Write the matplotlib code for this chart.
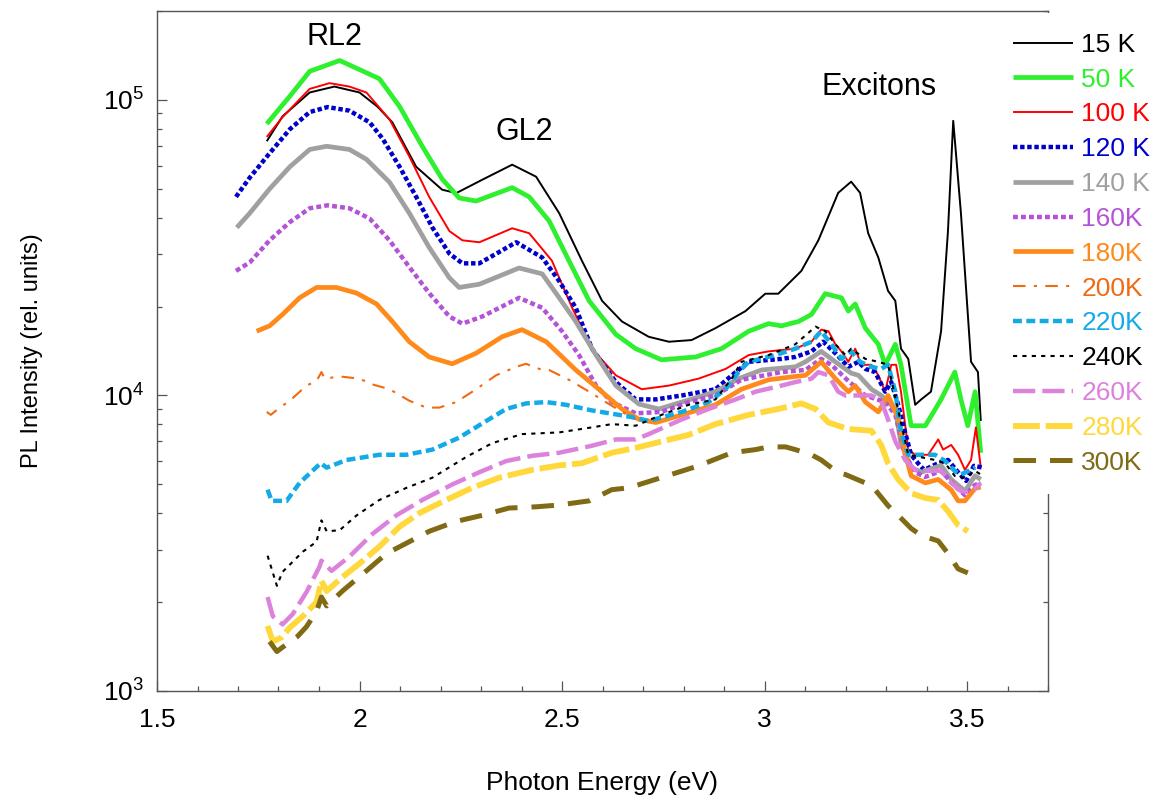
import matplotlib
matplotlib.use("Agg")
import matplotlib.pyplot as plt
from matplotlib.ticker import MultipleLocator, LogLocator, NullFormatter

plt.rcParams['font.family'] = ['Liberation Sans', 'DejaVu Sans']
plt.rcParams['mathtext.fontset'] = 'custom'
plt.rcParams['mathtext.rm'] = 'Liberation Sans'
plt.rcParams['mathtext.it'] = 'Liberation Sans:italic'
plt.rcParams['mathtext.bf'] = 'Liberation Sans:bold'

# ---------------- data (photon energy in eV, PL intensity in rel. units) ----------------
labels = ["15 K", "50 K", "100 K", "120 K", "140 K", "160K", "180K",
          "200K", "220K", "240K", "260K", "280K", "300K"]

e_15 = [1.771, 1.810, 1.877, 1.938, 2.000, 2.044, 2.081, 2.140, 2.204, 2.239, 2.303, 2.377, 2.436,
        2.493, 2.549, 2.599, 2.648, 2.714, 2.764, 2.820, 2.879, 2.953, 3.002, 3.034, 3.091, 3.133,
        3.182, 3.214, 3.236, 3.256, 3.281, 3.305, 3.323, 3.337, 3.355, 3.372, 3.387, 3.411, 3.436,
        3.453, 3.466, 3.485, 3.510, 3.527, 3.534]
i_15 = [7.25e4, 8.8e4, 1.06e5, 1.11e5, 1.06e5, 9.5e4, 8.4e4, 5.94e4, 4.97e4, 4.84e4, 5.37e4, 6.04e4,
        5.5e4, 4.14e4, 2.86e4, 2.09e4, 1.78e4, 1.58e4, 1.52e4, 1.54e4, 1.69e4, 1.93e4, 2.21e4, 2.21e4,
        2.64e4, 3.35e4, 4.85e4, 5.29e4, 4.85e4, 3.54e4, 2.93e4, 2.26e4, 2.09e4, 1.44e4, 1.33e4, 9.3e3,
        9.7e3, 1.03e4, 1.65e4, 3.6e4, 8.5e4, 4.14e4, 1.3e4, 1.2e4, 8.2e3]

e_50 = [1.771, 1.828, 1.877, 1.951, 2.049, 2.099, 2.155, 2.204, 2.246, 2.288, 2.377, 2.419, 2.468,
        2.517, 2.567, 2.633, 2.682, 2.746, 2.830, 2.894, 2.961, 3.010, 3.042, 3.084, 3.116, 3.150,
        3.190, 3.207, 3.224, 3.249, 3.281, 3.298, 3.323, 3.337, 3.362, 3.397, 3.421, 3.436, 3.470,
        3.485, 3.502, 3.520, 3.534]
i_50 = [8.3e4, 1.03e5, 1.25e5, 1.36e5, 1.18e5, 9.5e4, 6.97e4, 5.4e4, 4.66e4, 4.55e4, 5.05e4, 4.7e4,
        3.9e4, 2.86e4, 2.09e4, 1.61e4, 1.44e4, 1.32e4, 1.35e4, 1.44e4, 1.65e4, 1.75e4, 1.72e4, 1.78e4,
        1.88e4, 2.21e4, 2.14e4, 1.93e4, 2.04e4, 1.69e4, 1.49e4, 1.27e4, 1.49e4, 1.27e4, 7.9e3, 7.9e3,
        8.96e3, 9.7e3, 1.2e4, 9.7e3, 7.9e3, 1.03e4, 6.4e3]

e_100 = [1.771, 1.810, 1.877, 1.926, 1.975, 2.017, 2.074, 2.123, 2.172, 2.222, 2.254, 2.296, 2.377,
         2.419, 2.475, 2.525, 2.574, 2.633, 2.697, 2.764, 2.837, 2.904, 2.961, 3.010, 3.076, 3.116,
         3.140, 3.158, 3.175, 3.190, 3.207, 3.224, 3.239, 3.264, 3.281, 3.298, 3.313, 3.325, 3.337,
         3.355, 3.372, 3.404, 3.429, 3.441, 3.461, 3.478, 3.495, 3.510, 3.522, 3.534]
i_100 = [7.5e4, 8.75e4, 1.09e5, 1.14e5, 1.11e5, 1.06e5, 8.6e4, 6.44e4, 4.7e4, 3.6e4, 3.35e4, 3.3e4,
         3.68e4, 3.54e4, 2.86e4, 1.98e4, 1.44e4, 1.17e4, 1.05e4, 1.08e4, 1.14e4, 1.23e4, 1.37e4,
         1.41e4, 1.44e4, 1.52e4, 1.67e4, 1.65e4, 1.49e4, 1.41e4, 1.30e4, 1.44e4, 1.27e4, 1.27e4,
         1.17e4, 1.03e4, 1.27e4, 1.27e4, 1.03e4, 6.56e3, 6.3e3, 6.3e3, 7.1e3, 6.56e3, 6.8e3, 6.3e3,
         5.6e3, 6.05e3, 7.8e3, 5.7e3]

e_120 = [1.695, 1.729, 1.778, 1.828, 1.877, 1.921, 1.975, 2.025, 2.057, 2.099, 2.140, 2.180, 2.222,
         2.254, 2.296, 2.387, 2.451, 2.493, 2.534, 2.574, 2.633, 2.682, 2.732, 2.796, 2.879, 2.929,
         2.961, 3.042, 3.076, 3.116, 3.145, 3.175, 3.207, 3.232, 3.249, 3.273, 3.298, 3.313, 3.330,
         3.345, 3.362, 3.379, 3.394, 3.429, 3.453, 3.478, 3.498, 3.517, 3.539]
i_120 = [4.7e4, 5.46e4, 6.6e4, 7.96e4, 9.1e4, 9.46e4, 9.2e4, 8.4e4, 7.4e4, 5.94e4, 4.7e4, 3.7e4,
         3.02e4, 2.8e4, 2.8e4, 3.3e4, 2.93e4, 2.44e4, 1.98e4, 1.44e4, 1.11e4, 9.7e3, 9.7e3, 1.0e4,
         1.05e4, 1.2e4, 1.3e4, 1.33e4, 1.35e4, 1.41e4, 1.52e4, 1.39e4, 1.25e4, 1.30e4, 1.23e4, 1.20e4,
         1.03e4, 1.11e4, 9.3e3, 7.7e3, 6.3e3, 5.9e3, 5.6e3, 5.9e3, 6.05e3, 5.5e3, 5.14e3, 5.78e3, 5.7e3]

e_140 = [1.697, 1.729, 1.778, 1.828, 1.877, 1.919, 1.975, 2.017, 2.074, 2.123, 2.172, 2.222, 2.246,
         2.296, 2.394, 2.451, 2.485, 2.534, 2.584, 2.633, 2.690, 2.739, 2.796, 2.879, 2.936, 2.993,
         3.076, 3.101, 3.140, 3.175, 3.214, 3.232, 3.264, 3.288, 3.323, 3.337, 3.362, 3.387, 3.436,
         3.461, 3.495, 3.520, 3.534]
i_140 = [3.7e4, 4.14e4, 5.0e4, 5.94e4, 6.8e4, 6.97e4, 6.8e4, 6.3e4, 5.27e4, 4.14e4, 3.17e4, 2.5e4,
         2.32e4, 2.38e4, 2.7e4, 2.58e4, 2.22e4, 1.78e4, 1.37e4, 1.08e4, 9.35e3, 9.0e3, 9.5e3, 1.03e4,
         1.14e4, 1.22e4, 1.25e4, 1.30e4, 1.41e4, 1.30e4, 1.19e4, 1.17e4, 1.05e4, 1.0e4, 9.0e3, 6.9e3,
         5.7e3, 5.5e3, 5.8e3, 5.2e3, 4.75e3, 5.35e3, 5.2e3]

e_160 = [1.695, 1.729, 1.778, 1.828, 1.877, 1.921, 1.975, 2.025, 2.074, 2.123, 2.172, 2.222, 2.254,
         2.303, 2.394, 2.451, 2.500, 2.542, 2.584, 2.623, 2.682, 2.746, 2.813, 2.879, 2.943, 3.042,
         3.101, 3.140, 3.165, 3.207, 3.249, 3.298, 3.323, 3.347, 3.372, 3.397, 3.436, 3.470, 3.495,
         3.520, 3.534]
i_160 = [2.64e4, 2.82e4, 3.35e4, 3.86e4, 4.3e4, 4.4e4, 4.3e4, 3.97e4, 3.35e4, 2.72e4, 2.22e4, 1.85e4,
         1.75e4, 1.85e4, 2.14e4, 1.98e4, 1.65e4, 1.37e4, 1.08e4, 9.5e3, 8.7e3, 8.8e3, 9.5e3, 1.0e4,
         1.13e4, 1.2e4, 1.22e4, 1.33e4, 1.27e4, 1.12e4, 1.0e4, 9.5e3, 8.6e3, 6.3e3, 5.5e3, 5.3e3,
         5.56e3, 4.94e3, 4.6e3, 4.98e3, 5.06e3]

e_180 = [1.746, 1.778, 1.810, 1.852, 1.894, 1.943, 1.993, 2.042, 2.081, 2.123, 2.172, 2.229, 2.288,
         2.352, 2.401, 2.461, 2.534, 2.591, 2.648, 2.690, 2.732, 2.796, 2.879, 2.943, 3.010, 3.076,
         3.101, 3.140, 3.175, 3.207, 3.224, 3.249, 3.281, 3.305, 3.330, 3.347, 3.362, 3.397, 3.429,
         3.461, 3.478, 3.495, 3.520, 3.534]
i_180 = [1.65e4, 1.72e4, 1.88e4, 2.14e4, 2.32e4, 2.32e4, 2.22e4, 2.04e4, 1.78e4, 1.52e4, 1.35e4,
         1.28e4, 1.39e4, 1.58e4, 1.67e4, 1.52e4, 1.22e4, 1.05e4, 9.0e3, 8.3e3, 8.1e3, 8.6e3, 9.3e3,
         1.05e4, 1.13e4, 1.16e4, 1.17e4, 1.30e4, 1.14e4, 1.03e4, 1.08e4, 9.5e3, 8.8e3, 1.0e4, 8.4e3,
         6.4e3, 5.35e3, 5.06e3, 5.2e3, 4.79e3, 4.4e3, 4.4e3, 4.85e3, 4.9e3]

e_200 = [1.771, 1.781, 1.803, 1.828, 1.869, 1.894, 1.906, 1.914, 1.951, 2.000, 2.032, 2.074, 2.123,
         2.165, 2.197, 2.239, 2.288, 2.337, 2.387, 2.411, 2.451, 2.468, 2.517, 2.567, 2.608, 2.648,
         2.682]
i_200 = [8.8e3, 8.6e3, 9.1e3, 9.6e3, 1.08e4, 1.12e4, 1.2e4, 1.14e4, 1.16e4, 1.14e4, 1.09e4, 1.05e4,
         9.6e3, 9.1e3, 9.1e3, 9.5e3, 1.05e4, 1.17e4, 1.25e4, 1.28e4, 1.22e4, 1.22e4, 1.13e4, 1.03e4,
         9.5e3, 8.8e3, 8.3e3]

e_220 = [1.773, 1.783, 1.820, 1.852, 1.884, 1.904, 1.919, 1.968, 2.049, 2.116, 2.180, 2.246, 2.313,
         2.362, 2.411, 2.461, 2.510, 2.574, 2.640, 2.682, 2.714, 2.796, 2.862, 2.904, 2.936, 2.961,
         3.027, 3.076, 3.116, 3.140, 3.165, 3.190, 3.214, 3.236, 3.264, 3.288, 3.305, 3.323, 3.337,
         3.355, 3.421, 3.446, 3.470, 3.485, 3.520]
i_220 = [4.8e3, 4.4e3, 4.4e3, 5.06e3, 5.56e3, 5.9e3, 5.7e3, 6.05e3, 6.3e3, 6.3e3, 6.56e3, 7.2e3,
         8.2e3, 9.0e3, 9.4e3, 9.5e3, 9.3e3, 8.9e3, 8.6e3, 8.4e3, 8.2e3, 8.8e3, 9.5e3, 1.05e4, 1.2e4,
         1.3e4, 1.37e4, 1.44e4, 1.52e4, 1.65e4, 1.49e4, 1.33e4, 1.41e4, 1.30e4, 1.25e4, 1.23e4,
         1.27e4, 1.03e4, 7.5e3, 6.3e3, 6.3e3, 6.0e3, 5.55e3, 5.4e3, 5.7e3]

e_240 = [1.773, 1.796, 1.810, 1.860, 1.894, 1.906, 1.919, 1.951, 1.993, 2.049, 2.116, 2.180, 2.264,
         2.328, 2.401, 2.493, 2.574, 2.623, 2.682, 2.746, 2.813, 2.879, 2.919, 2.943, 3.010, 3.076,
         3.126, 3.150, 3.175, 3.200, 3.214, 3.249, 3.281, 3.305, 3.337, 3.355, 3.421, 3.446, 3.470,
         3.495, 3.520, 3.534]
i_240 = [2.87e3, 2.27e3, 2.53e3, 2.96e3, 3.2e3, 3.78e3, 3.47e3, 3.5e3, 3.93e3, 4.43e3, 4.87e3, 5.27e3,
         6.2e3, 6.9e3, 7.4e3, 7.5e3, 7.8e3, 8.0e3, 7.9e3, 8.6e3, 9.3e3, 9.7e3, 1.14e4, 1.30e4, 1.37e4,
         1.49e4, 1.71e4, 1.65e4, 1.49e4, 1.37e4, 1.44e4, 1.33e4, 1.30e4, 1.27e4, 8.1e3, 6.3e3, 6.05e3,
         5.9e3, 5.34e3, 5.25e3, 5.56e3, 5.4e3]

e_260 = [1.773, 1.786, 1.810, 1.835, 1.869, 1.901, 1.906, 1.931, 1.975, 2.032, 2.091, 2.155, 2.229,
         2.296, 2.362, 2.426, 2.493, 2.574, 2.633, 2.682, 2.714, 2.796, 2.862, 2.929, 2.978, 3.042,
         3.076, 3.116, 3.133, 3.158, 3.182, 3.200, 3.232, 3.264, 3.288, 3.305, 3.323, 3.347, 3.372,
         3.404, 3.436, 3.461, 3.485, 3.510, 3.534]
i_260 = [2.08e3, 1.79e3, 1.68e3, 1.82e3, 2.16e3, 2.63e3, 2.76e3, 2.55e3, 2.85e3, 3.4e3, 3.93e3, 4.43e3,
         5.0e3, 5.5e3, 6.0e3, 6.25e3, 6.4e3, 6.76e3, 7.1e3, 7.1e3, 7.4e3, 8.3e3, 9.0e3, 9.7e3, 1.03e4,
         1.08e4, 1.11e4, 1.14e4, 1.20e4, 1.17e4, 1.03e4, 1.0e4, 1.0e4, 1.0e4, 9.6e3, 8.3e3, 7.0e3,
         6.05e3, 5.6e3, 5.56e3, 5.56e3, 5.06e3, 4.75e3, 4.7e3, 5.06e3]

e_280 = [1.773, 1.786, 1.808, 1.828, 1.860, 1.894, 1.906, 1.919, 1.958, 2.000, 2.049, 2.099, 2.148,
         2.214, 2.278, 2.345, 2.426, 2.493, 2.549, 2.623, 2.682, 2.813, 2.879, 2.961, 3.034, 3.091,
         3.126, 3.158, 3.207, 3.264, 3.288, 3.305, 3.330, 3.362, 3.397, 3.429, 3.453, 3.478, 3.502]
i_280 = [1.66e3, 1.47e3, 1.52e3, 1.64e3, 1.79e3, 2.0e3, 2.36e3, 2.18e3, 2.43e3, 2.7e3, 3.08e3, 3.6e3,
         4.0e3, 4.43e3, 4.87e3, 5.27e3, 5.6e3, 5.8e3, 5.9e3, 6.4e3, 6.65e3, 7.36e3, 8.0e3, 8.6e3,
         9.0e3, 9.4e3, 9.0e3, 8.1e3, 7.7e3, 7.6e3, 6.8e3, 5.9e3, 5.2e3, 4.67e3, 4.5e3, 4.43e3, 4.06e3,
         3.64e3, 3.47e3]

e_300 = [1.778, 1.796, 1.820, 1.847, 1.869, 1.894, 1.906, 1.919, 1.958, 2.017, 2.067, 2.123, 2.172,
         2.239, 2.303, 2.369, 2.436, 2.493, 2.567, 2.623, 2.665, 2.750, 2.837, 2.919, 2.978, 3.010,
         3.052, 3.076, 3.116, 3.140, 3.182, 3.200, 3.249, 3.273, 3.305, 3.330, 3.362, 3.387, 3.429,
         3.453, 3.478, 3.502]
i_300 = [1.47e3, 1.36e3, 1.44e3, 1.53e3, 1.65e3, 1.86e3, 2.08e3, 1.94e3, 2.18e3, 2.55e3, 2.92e3, 3.2e3,
         3.47e3, 3.75e3, 3.93e3, 4.16e3, 4.2e3, 4.26e3, 4.4e3, 4.8e3, 4.87e3, 5.3e3, 5.78e3, 6.4e3,
         6.56e3, 6.7e3, 6.7e3, 6.56e3, 6.3e3, 6.05e3, 5.47e3, 5.4e3, 5.06e3, 4.8e3, 4.24e3, 3.93e3,
         3.55e3, 3.36e3, 3.22e3, 2.92e3, 2.59e3, 2.51e3]

energies = [e_15, e_50, e_100, e_120, e_140, e_160, e_180, e_200, e_220, e_240, e_260, e_280, e_300]
intensities = [i_15, i_50, i_100, i_120, i_140, i_160, i_180, i_200, i_220, i_240, i_260, i_280, i_300]

x_ticks = [1.5, 2.0, 2.5, 3.0, 3.5]
x_tick_labels = ["1.5", "2", "2.5", "3", "3.5"]

# ---------------- styles ----------------
colors = ["#000000", "#2ef02e", "#ff0000", "#0000cc", "#a0a0a0", "#b452d8", "#ff8a1c",
          "#f06a12", "#14aae6", "#000000", "#dc82dc", "#ffd83c", "#806a14"]
widths = [1.4, 3.4, 1.4, 3.2, 3.4, 3.2, 3.4, 1.5, 3.2, 1.5, 3.2, 4.2, 3.6]
dashes = [None, None, None, (1.0, 0.6), None, (1.1, 0.7), None, (6, 4, 1.5, 4),
          (2.0, 1.0), (2.0, 2.5), (5.0, 1.6), (4.6, 1.0), (4.5, 2.8)]

fig = plt.figure(figsize=(11.61, 8.01), dpi=100)
ax = fig.add_axes([157 / 1161, 1 - 691 / 801, (1048 - 157) / 1161, (691 - 11) / 801])

handles = []
for e, inten, lab, c, w, d in zip(energies, intensities, labels, colors, widths, dashes):
    ls = '-' if d is None else (0, d)
    ln, = ax.plot(e, inten, color=c, lw=w, linestyle=ls, label=lab,
                  dash_capstyle='butt', solid_joinstyle='round', solid_capstyle='butt')
    handles.append(ln)

ax.set_yscale('log')
ax.set_ylim(1e3, 2e5)
ax.set_xlim(1.5, 3.7)
ax.set_xticks(x_ticks)
ax.set_xticklabels(x_tick_labels)
ax.xaxis.set_minor_locator(MultipleLocator(0.1))
ax.yaxis.set_major_locator(LogLocator(base=10, numticks=10))
ax.yaxis.set_minor_locator(LogLocator(base=10, subs=range(2, 10), numticks=20))
ax.yaxis.set_minor_formatter(NullFormatter())

for sp in ax.spines.values():
    sp.set_color('#555555')
    sp.set_linewidth(1.0)

ax.tick_params(which='both', direction='in', right=True, top=False, color='#555555', width=0.9)
ax.tick_params(which='major', length=7)
ax.tick_params(which='minor', length=3.6)
ax.tick_params(axis='x', which='major', labelsize=19, pad=12)
ax.tick_params(axis='y', which='major', labelsize=19, pad=9)

ax.set_xlabel("Photon Energy (eV)", fontsize=19, labelpad=28)
ax.set_ylabel("PL Intensity (rel. units)", fontsize=17, labelpad=43)

ax.text(1.938, 1.63e5, "RL2", fontsize=22, ha='center', va='center')
ax.text(2.406, 7.8e4, "GL2", fontsize=22, ha='center', va='center')
ax.text(3.283, 1.11e5, "Excitons", fontsize=22, ha='center', va='center')

fig.legend(handles=handles, loc='upper left', bbox_to_anchor=(993 / 1161, 1 - 13 / 801),
           frameon=True, fancybox=False, edgecolor='none', facecolor='white', framealpha=1,
           fontsize=19, handlelength=2.3, handletextpad=0.3, labelspacing=0.41,
           borderpad=0.75, borderaxespad=0, labelcolor='linecolor')

fig.savefig("out.png", dpi=100)
